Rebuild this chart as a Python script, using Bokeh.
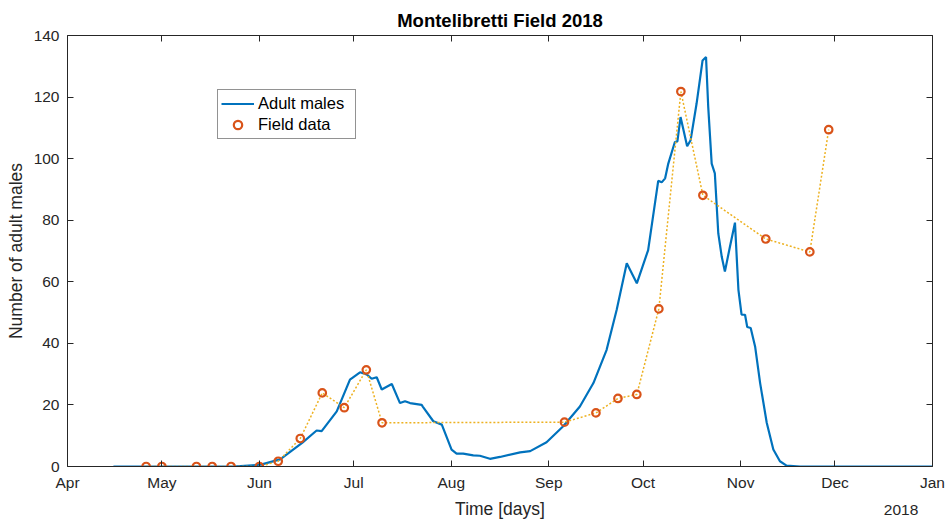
import pandas as pd
from bokeh.plotting import figure
from bokeh.models import (Range1d, LinearAxis, DatetimeAxis, FixedTicker,
                          DatetimeTickFormatter, CustomJSTickFormatter, Legend,
                          LegendItem)
from bokeh.embed import file_html
from bokeh.resources import INLINE

START = "2018-04-01"

# Simulated adult males (days since 2018-04-01, value)
model_days = [14.6, 52.6, 61.5, 67.6, 74.6, 79.2, 80.8, 85.6, 89.8, 93.0, 95.1,
              96.7, 98.3, 99.9, 103.1, 105.7, 107.3, 108.9, 112.6, 113.0, 116.3,
              119.0, 122.1, 123.7, 125.8, 129.0, 131.1, 134.3, 137.5, 143.9, 147.1,
              152.3, 157.6, 162.9, 167.2, 171.4, 174.6, 177.8, 181.0, 184.6, 187.8,
              188.9, 190.0, 191.0, 193.1, 193.9, 194.9, 197.0, 198.1, 200.0, 201.9,
              203.0, 203.7, 204.8, 205.8, 206.9, 208.0, 209.0, 210.6, 212.2, 212.8,
              213.3, 214.3, 215.4, 216.1, 217.2, 218.6, 220.2, 222.3, 224.4, 226.5,
              228.6, 232.9, 275.0]
model_males = [0.0, 0.0, 0.6, 2.3, 7.7, 11.7, 11.5, 17.9, 28.2, 30.6, 29.9,
               28.5, 29.0, 25.0, 26.8, 20.6, 21.2, 20.6, 20.0, 19.4, 14.7,
               13.6, 5.5, 4.2, 4.2, 3.6, 3.5, 2.5, 3.1, 4.6, 5.0,
               7.9, 13.1, 19.5, 27.1, 37.9, 50.9, 66.0, 59.5, 70.3, 92.8,
               92.3, 93.6, 98.4, 105.4, 105.6, 113.5, 104.0, 106.0, 117.9, 131.9,
               133.0, 116.8, 98.4, 95.2, 75.7, 68.1, 63.3, 71.4, 79.2, 67.1,
               57.4, 49.3, 49.3, 45.3, 45.0, 39.0, 27.1, 14.2, 5.5, 1.7,
               0.3, 0.0, 0.0]

# Field trap data
field_dates = ["2018-04-26", "2018-05-01", "2018-05-12", "2018-05-17", "2018-05-23",
               "2018-06-01", "2018-06-07", "2018-06-14", "2018-06-21", "2018-06-28",
               "2018-07-05", "2018-07-10", "2018-09-06", "2018-09-16", "2018-09-23",
               "2018-09-29", "2018-10-06", "2018-10-13", "2018-10-20", "2018-11-09",
               "2018-11-23", "2018-11-29"]
field_counts = [0.0, 0.0, 0.0, 0.0, 0.0, 0.0, 1.7, 9.1, 23.9, 19.1,
                31.4, 14.2, 14.4, 17.4, 22.1, 23.4, 51.2, 121.8, 88.1, 73.9,
                69.7, 109.4]

month_ticks = ["2018-04-01", "2018-05-01", "2018-06-01", "2018-07-01", "2018-08-01",
               "2018-09-01", "2018-10-01", "2018-11-01", "2018-12-01", "2019-01-01"]
year_tick = ["2018-12-22"]          # where the date axis shows its year (2018)
y_ticks = [0, 20, 40, 60, 80, 100, 120, 140]

FONT = "Liberation Sans"
AX = "#262626"

model_x = pd.Timestamp(START) + pd.to_timedelta(model_days, unit="D")
field_x = pd.to_datetime(field_dates)
tick_ms = [pd.Timestamp(t).value / 1e6 for t in month_ticks]
year_ms = [pd.Timestamp(t).value / 1e6 for t in year_tick]

p = figure(width=949, height=521, x_axis_type="datetime",
           x_range=Range1d(pd.Timestamp(month_ticks[0]), pd.Timestamp(month_ticks[-1])),
           y_range=Range1d(y_ticks[0], y_ticks[-1]),
           output_backend="svg", toolbar_location=None,
           min_border_left=67, min_border_right=17, min_border_top=35, min_border_bottom=54)
p.title.text = "Montelibretti Field 2018"
p.title.align = "center"
p.title.text_font = FONT
p.title.text_font_size = "18.5px"
p.title.text_color = "#000000"
p.title.standoff = 9
p.grid.visible = False
p.outline_line_color = None
p.background_fill_color = "white"
p.border_fill_color = "white"

blank = CustomJSTickFormatter(code="return ''")

def style_axis(ax, labels=True):
    ax.axis_line_color = AX
    ax.major_tick_line_color = AX
    ax.major_tick_in = 6
    ax.major_tick_out = 0
    ax.minor_tick_line_color = None
    ax.major_label_text_font = FONT
    ax.major_label_text_font_size = "15.5px"
    ax.major_label_text_color = AX
    ax.axis_label_text_font = FONT
    ax.axis_label_text_font_size = "17.5px"
    ax.axis_label_text_font_style = "normal"
    ax.axis_label_text_color = AX
    if not labels:
        ax.formatter = blank
        ax.major_label_standoff = 0

xt = FixedTicker(ticks=tick_ms)
yt = FixedTicker(ticks=y_ticks)
fmt = DatetimeTickFormatter(months="%b", days="%b", years="%b")

p.xaxis.ticker = xt
p.xaxis.formatter = fmt
p.xaxis.axis_label = "Time [days]"
p.yaxis.ticker = yt
p.yaxis.axis_label = "Number of adult males"
style_axis(p.xaxis[0])
style_axis(p.yaxis[0])
p.xaxis[0].major_label_standoff = 7
p.xaxis[0].axis_label_standoff = 5
p.yaxis[0].major_label_standoff = 8
p.yaxis[0].axis_label_standoff = 5

top = DatetimeAxis(ticker=xt)
style_axis(top, labels=False)
p.add_layout(top, "above")
right = LinearAxis(ticker=yt)
style_axis(right, labels=False)
p.add_layout(right, "right")

# secondary date axis that only shows the year, on the same row as the axis label
yfmt = "%Y"
year_axis = DatetimeAxis(ticker=FixedTicker(ticks=year_ms),
                         formatter=DatetimeTickFormatter(
                             microseconds=yfmt, milliseconds=yfmt, seconds=yfmt,
                             minsec=yfmt, minutes=yfmt, hourmin=yfmt, hours=yfmt,
                             days=yfmt, months=yfmt, years=yfmt))
style_axis(year_axis)
year_axis.axis_line_color = None
year_axis.major_tick_line_color = None
year_axis.major_tick_in = 0
year_axis.major_label_standoff = -17
p.add_layout(year_axis, "below")

line_r = p.line(model_x, model_males, line_color="#0072BD", line_width=2.2)
p.line(field_x, field_counts, line_color="#EDB120", line_width=1.5, line_dash="2 2")
pts_r = p.scatter(field_x, field_counts, marker="circle", size=7.5, fill_color="white",
                  fill_alpha=0.0, line_color="#D95319", line_width=2.2)

legend = Legend(items=[LegendItem(label="Adult males", renderers=[line_r]),
                       LegendItem(label="Field data", renderers=[pts_r])],
                location=(150, 327))
legend.border_line_color = AX
legend.border_line_width = 1
legend.background_fill_alpha = 1
legend.label_text_font = FONT
legend.label_text_font_size = "16.5px"
legend.label_text_color = "#000000"
legend.glyph_width = 33
legend.glyph_height = 21
legend.label_height = 21
legend.label_width = 94
legend.label_standoff = 4
legend.spacing = 0
legend.padding = 3
legend.margin = 0
p.add_layout(legend)

open("out.html", "w").write(file_html(p, INLINE))
